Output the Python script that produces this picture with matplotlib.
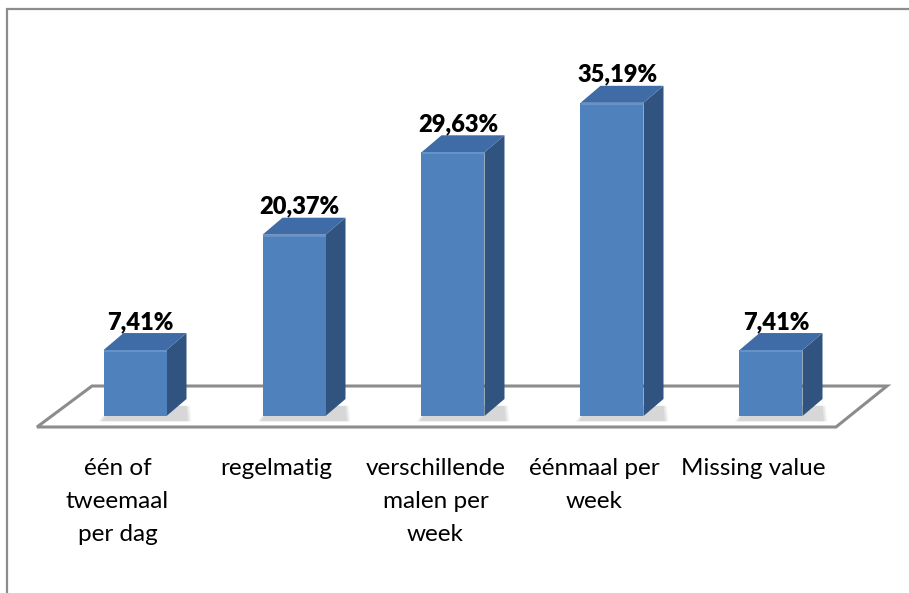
import matplotlib
matplotlib.use("Agg")
import matplotlib.pyplot as plt
from matplotlib.patches import Polygon, Rectangle

categories = ["één of\ntweemaal\nper dag", "regelmatig", "verschillende\nmalen per\nweek",
              "éénmaal per\nweek", "Missing value"]
values = [7.41, 20.37, 29.63, 35.19, 7.41]
value_labels = ["7,41%", "20,37%", "29,63%", "35,19%", "7,41%"]

W, H = 909, 593
fig = plt.figure(figsize=(W / 100, H / 100), dpi=100)
ax = fig.add_axes([0, 0, 1, 1])
px_x = 159.0      # pixels per category
px_y = 8.9        # pixels per percent
x0_pix = 135.0
base_pix = 416.0
ax.set_xlim(-x0_pix / px_x, (W - x0_pix) / px_x)
ax.set_ylim(-(H - base_pix) / px_y, base_pix / px_y)
ax.axis("off")

# depth offsets (style)
ddx = 20 / px_x
ddy = 17 / px_y
hw = 31.5 / px_x

# floor
fl_front = -11 / px_y
fl_back = 30 / px_y
floor = Polygon([(-98 / px_x, fl_front), (701 / px_x, fl_front),
                 (752 / px_x, fl_back), (-43 / px_x, fl_back)],
                closed=True, facecolor="white", edgecolor="#8c8c8c", lw=2.2, zorder=1)
ax.add_patch(floor)

front_c = "#4f81bd"
top_c = "#3f6ca6"
side_c = "#30547f"

for i, v in enumerate(values):
    xl, xr = i - hw, i + hw
    # soft shadow
    for k, a in enumerate([0.05, 0.05, 0.06]):
        ax.add_patch(Polygon([(xl - 0.03 + k * 0.01, -0.6), (xr + ddx + 0.03 - k * 0.01, -0.6),
                              (xr + ddx + 0.02 - k * 0.01, ddy * 0.6), (xl + 0.05, ddy * 0.6)],
                             closed=True, facecolor="black", edgecolor="none", alpha=a, zorder=2))
    ax.add_patch(Polygon([(xr, 0), (xr + ddx, ddy), (xr + ddx, v + ddy), (xr, v)],
                         closed=True, facecolor=side_c, edgecolor="none", zorder=3))
    ax.add_patch(Polygon([(xl, v), (xr, v), (xr + ddx, v + ddy), (xl + ddx, v + ddy)],
                         closed=True, facecolor=top_c, edgecolor="none", zorder=3))
    ax.add_patch(Rectangle((xl, 0), 2 * hw, v, facecolor=front_c, edgecolor="none", zorder=4))
    ax.plot([xl + 0.01, xr - 0.005], [v - 0.1, v - 0.1], color="#6a96cc", lw=1.2, zorder=4.5)
    ax.text(i + 0.035, v + ddy + 0.45, value_labels[i], ha="center", va="baseline",
            fontsize=17, fontweight="heavy", family="Lato", color="black", zorder=5)
    ax.text(i - 0.11, -4.7, categories[i], ha="center", va="top", fontsize=17.5,
            family="Lato", color="black", linespacing=1.72, zorder=5)

# chart area frame (top and left edges visible)
fig.patches.append(Rectangle((7 / W, -0.1), 1.2, (H - 9) / H + 0.1, transform=fig.transFigure,
                             facecolor="none", edgecolor="#8c8c8c", lw=1.6))

fig.savefig("out.png", dpi=100)
